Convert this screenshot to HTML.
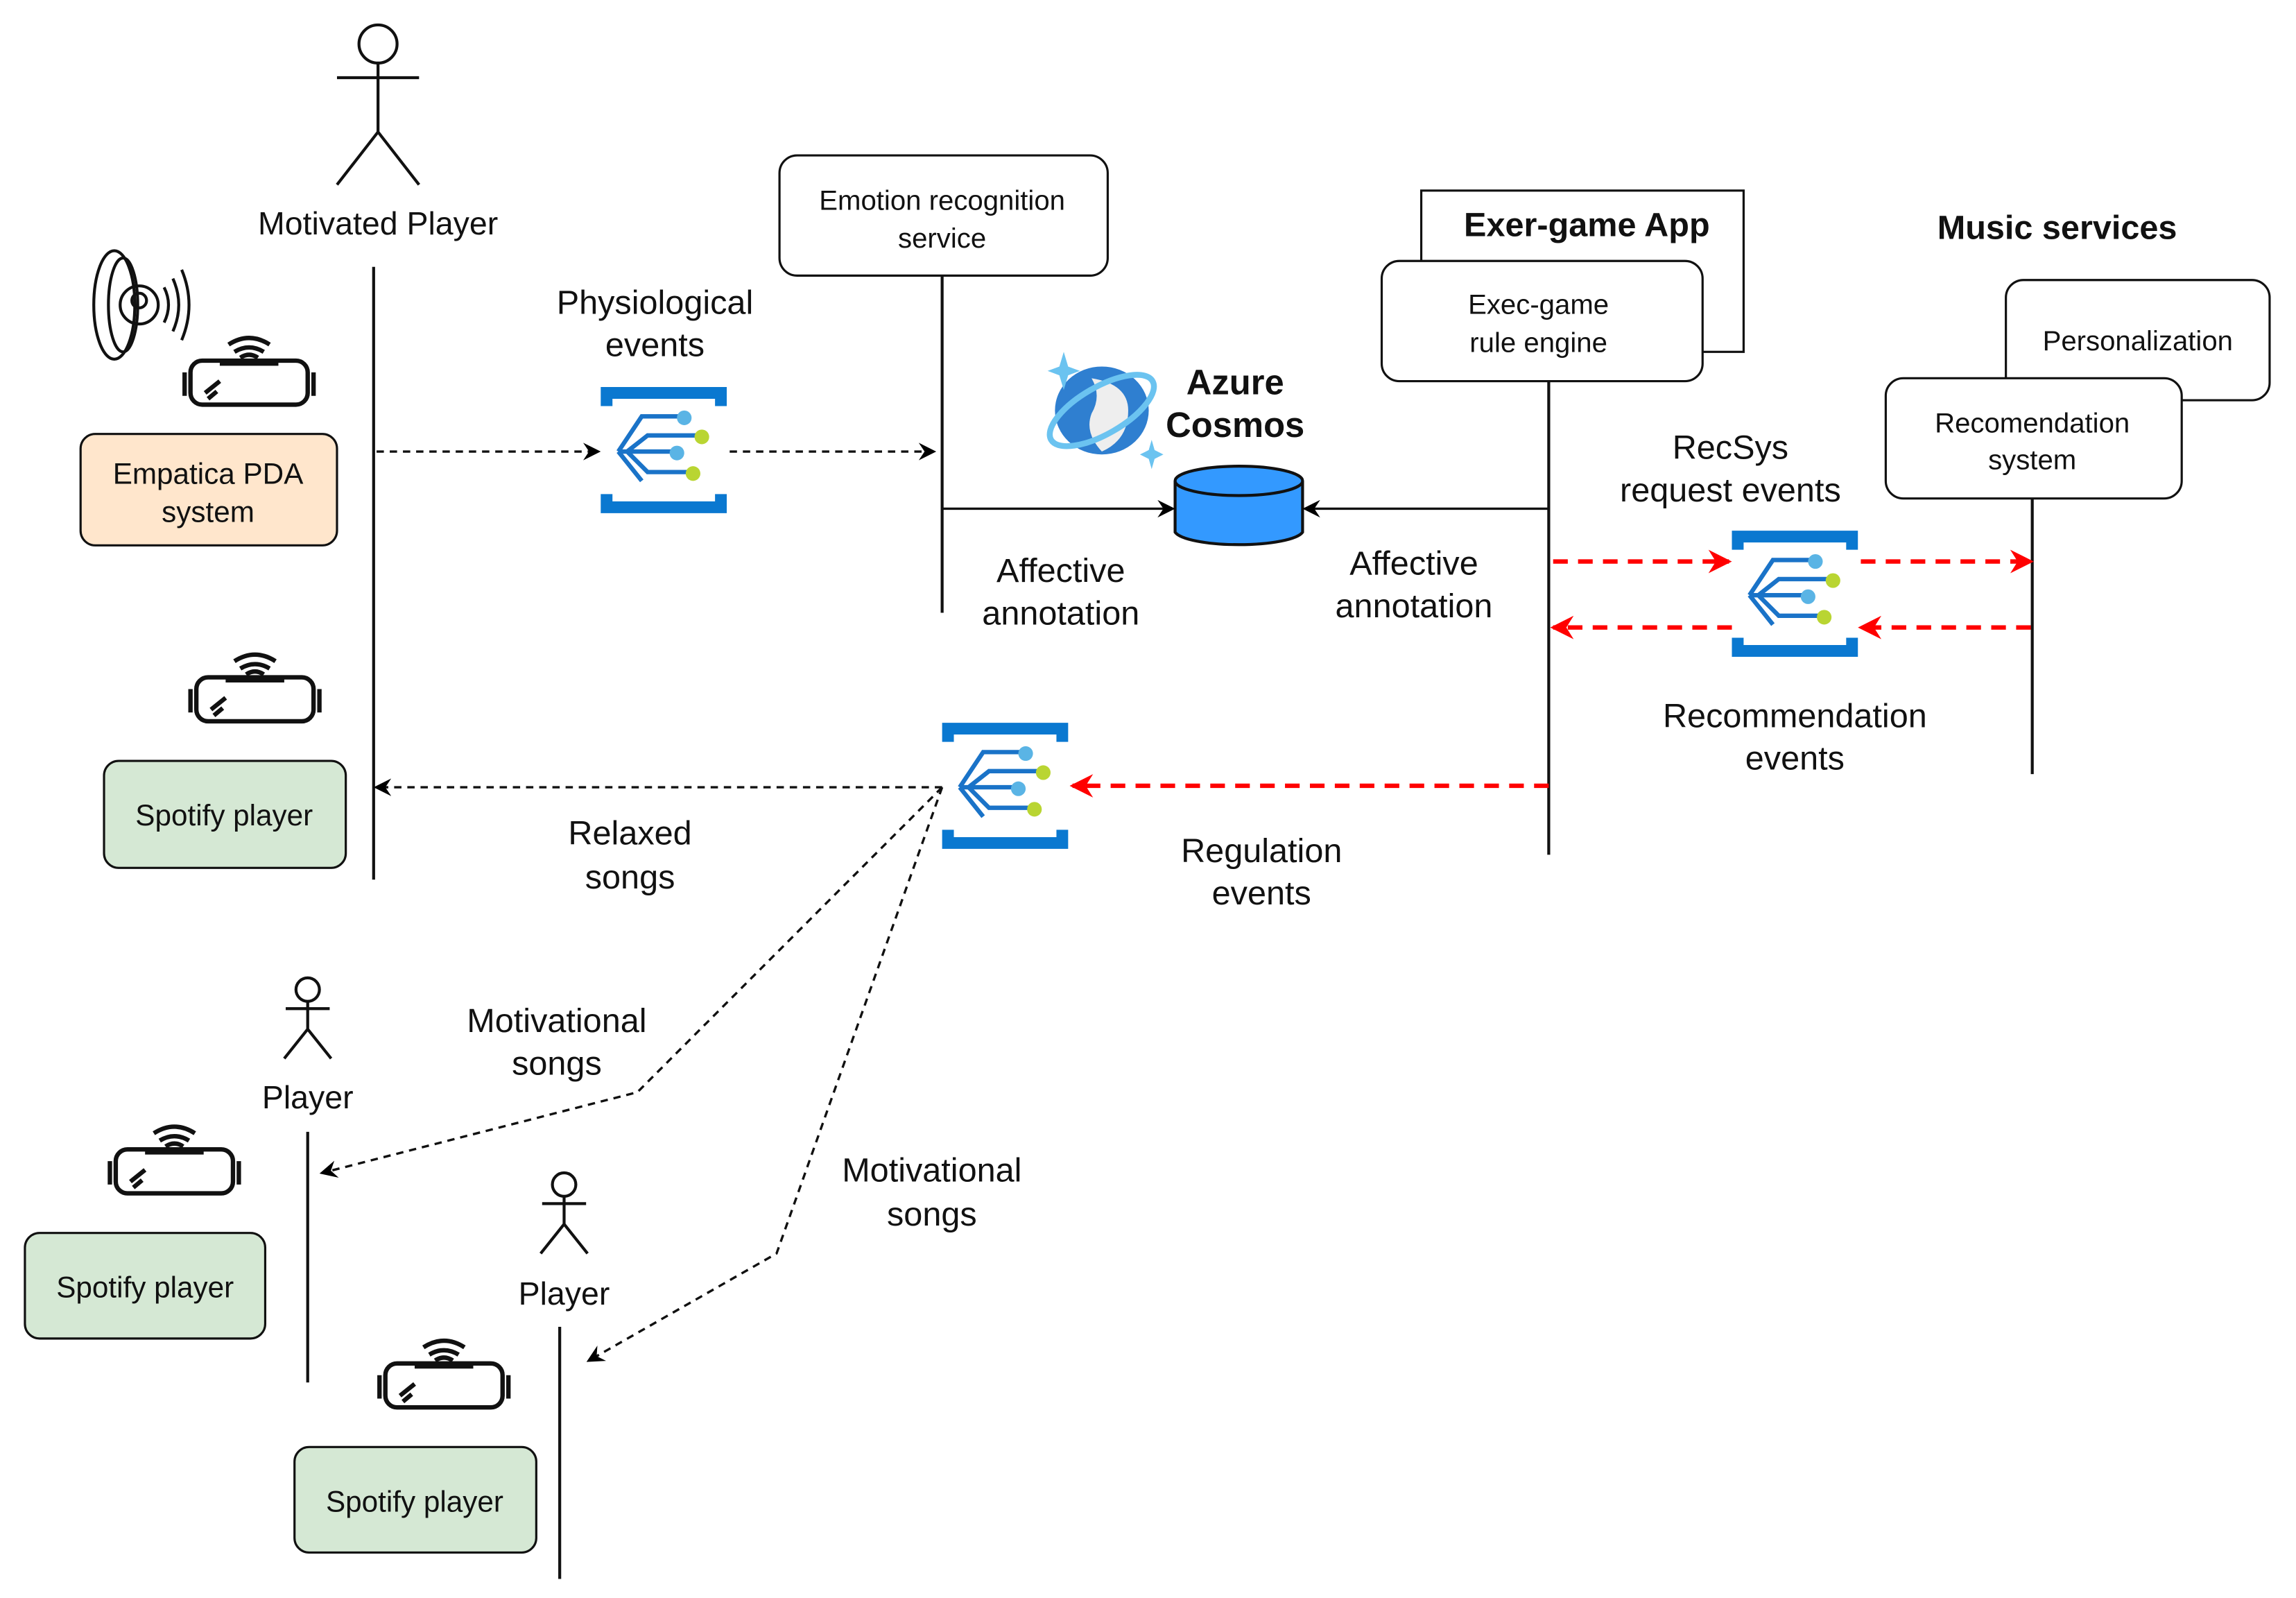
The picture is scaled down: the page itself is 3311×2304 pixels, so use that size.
<!DOCTYPE html>
<html><head><meta charset="utf-8"><style>
html,body{margin:0;padding:0;background:#fff}
svg{display:block}
text{font-family:"Liberation Sans",sans-serif;fill:#111}
</style></head><body>
<svg width="3311" height="2304" viewBox="0 0 1567 1090" preserveAspectRatio="none" xmlns="http://www.w3.org/2000/svg">
<defs>
<marker id="ab" markerWidth="12" markerHeight="12" refX="10" refY="6" orient="auto" markerUnits="userSpaceOnUse"><path d="M0,0 L12,6 L0,12 L4,6Z" fill="#000"/></marker>
<marker id="ar" markerWidth="16" markerHeight="16" refX="14" refY="8" orient="auto" markerUnits="userSpaceOnUse"><path d="M0,0 L16,8 L0,16 L5,8Z" fill="#f00"/></marker>
<g id="hub">
<path d="M0,0 H86 V13 H78 V8 H8 V13 H0Z" fill="#0a78d0"/>
<path d="M0,73 H8 V78 H78 V73 H86 V86 H0Z" fill="#0a78d0"/>
<path d="M12,44 L28,20 H56 M18,44 L32,33 H68 M12,44 H52 M18,44 L32,58 H62 M12,44 L28,64" fill="none" stroke="#1a73c8" stroke-width="3"/>
<circle cx="57" cy="21" r="5" fill="#5ab4e5"/><circle cx="69" cy="34" r="5" fill="#b9d532"/><circle cx="52" cy="45" r="5" fill="#5ab4e5"/><circle cx="63" cy="59" r="5" fill="#b9d532"/>
</g>
<g id="vr" fill="none" stroke="#111" stroke-width="3">
<rect x="4" y="22" width="80" height="30" rx="8"/>
<path d="M0,30 V46 M88,30 V46"/>
<path d="M14,44 L24,36 M16,48 L22,43"/>
<path d="M24,24 H64" />
<path d="M34,16 Q44,10 54,16 M38,20 Q44,16 50,20"/>
<path d="M30,11 Q44,2 58,11"/>
</g>
</defs>

<g fill="none" stroke="#111" stroke-width="2">
<circle cx="258" cy="30" r="13"/><path d="M258,43 V90 M230,53 H286 M258,90 L230,126 M258,90 L286,126"/>
<path d="M255,182 V600"/>
<path d="M643,188 V418"/>
<path d="M1057,260 V583"/>
<path d="M1387,340 V528"/>
<circle cx="210" cy="675" r="8"/><path d="M210,683 V702 M195,688 H225 M210,702 L194,722 M210,702 L226,722"/>
<path d="M210,772 V943"/>
<circle cx="385" cy="808" r="8"/><path d="M385,816 V835 M370,821 H400 M385,835 L369,855 M385,835 L401,855"/>
<path d="M382,905 V1077"/>
</g>
<text x="258" y="160" font-size="22" text-anchor="middle">Motivated Player</text>
<text x="210" y="756" font-size="22" text-anchor="middle">Player</text>
<text x="385" y="890" font-size="22" text-anchor="middle">Player</text>

<g fill="none" stroke="#111" stroke-width="2">
<ellipse cx="78" cy="208" rx="14" ry="37"/><ellipse cx="84" cy="208" rx="10" ry="32"/>
<circle cx="95" cy="208" r="13"/><circle cx="95" cy="205" r="5"/>
<path d="M112,196 Q118,208 112,220 M118,190 Q126,208 118,226 M124,184 Q134,208 124,232"/>
</g>
<use href="#vr" x="126" y="224"/>
<use href="#vr" x="130" y="440"/>
<use href="#vr" x="75" y="762"/>
<use href="#vr" x="259" y="908"/>

<g stroke="#111" stroke-width="1.5">
<rect x="55" y="296" width="175" height="76" rx="10" fill="#ffe6cc"/>
<rect x="71" y="519" width="165" height="73" rx="10" fill="#d5e8d4"/>
<rect x="17" y="841" width="164" height="72" rx="10" fill="#d5e8d4"/>
<rect x="201" y="987" width="165" height="72" rx="10" fill="#d5e8d4"/>
<rect x="532" y="106" width="224" height="82" rx="12" fill="#fff"/>
<rect x="970" y="130" width="220" height="110" fill="#fff"/>
<rect x="943" y="178" width="219" height="82" rx="12" fill="#fff"/>
<rect x="1369" y="191" width="180" height="82" rx="12" fill="#fff"/>
<rect x="1287" y="258" width="202" height="82" rx="12" fill="#fff"/>
</g>
<text font-size="20" text-anchor="middle"><tspan x="142" y="330">Empatica PDA</tspan><tspan x="142" y="356">system</tspan></text>
<text font-size="20" text-anchor="middle" x="153" y="563">Spotify player</text>
<text font-size="20" text-anchor="middle" x="99" y="885">Spotify player</text>
<text font-size="20" text-anchor="middle" x="283" y="1031">Spotify player</text>
<text font-size="19" text-anchor="middle"><tspan x="643" y="143">Emotion recognition</tspan><tspan x="643" y="169">service</tspan></text>
<text font-size="23" font-weight="bold" text-anchor="middle" x="1083" y="161">Exer-game App</text>
<text font-size="19" text-anchor="middle"><tspan x="1050" y="214">Exec-game</tspan><tspan x="1050" y="240">rule engine</tspan></text>
<text font-size="23" font-weight="bold" text-anchor="middle" x="1404" y="163">Music services</text>
<text font-size="19" text-anchor="middle" x="1459" y="239">Personalization</text>
<text font-size="19" text-anchor="middle"><tspan x="1387" y="295">Recomendation</tspan><tspan x="1387" y="320">system</tspan></text>

<ellipse cx="752" cy="280" rx="32" ry="30" fill="#2f7fd0"/>
<path d="M745,258 Q770,262 770,280 Q770,300 752,308 Q740,295 745,282 Q752,270 745,258Z" fill="#eee"/>
<ellipse cx="752" cy="280" rx="40" ry="16" transform="rotate(-30 752 280)" fill="none" stroke="#6bc3f0" stroke-width="4"/>
<path d="M726,240 l3,10 l8,3 l-8,3 l-3,10 l-3,-10 l-8,-3 l8,-3Z" fill="#6bc3f0"/>
<path d="M786,300 l2,7 l6,3 l-6,3 l-2,7 l-2,-7 l-6,-3 l6,-3Z" fill="#6bc3f0"/>
<text font-size="24" font-weight="bold" text-anchor="middle"><tspan x="843" y="269">Azure</tspan><tspan x="843" y="298">Cosmos</tspan></text>
<path d="M802,328 V363 A44,10 0 0 0 889,363 V328" fill="#3399ff" stroke="#111" stroke-width="2"/>
<ellipse cx="845.5" cy="328" rx="43.5" ry="10" fill="#3399ff" stroke="#111" stroke-width="2"/>

<use href="#hub" x="410" y="264"/>
<use href="#hub" x="1182" y="362"/>
<use href="#hub" x="643" y="493"/>

<g fill="none" stroke="#111" stroke-width="1.6">
<path d="M257,308 H408" stroke-dasharray="5,4" marker-end="url(#ab)"/>
<path d="M498,308 H637" stroke-dasharray="5,4" marker-end="url(#ab)"/>
<path d="M643,347 H800" marker-end="url(#ab)"/>
<path d="M1057,347 H891" marker-end="url(#ab)"/>
<path d="M643,537 H257" stroke-dasharray="5,4" marker-end="url(#ab)"/>
<path d="M643,537 L435,745 L220,800" stroke-dasharray="5,4" marker-end="url(#ab)"/>
<path d="M643,537 L530,855 L402,928" stroke-dasharray="5,4" marker-end="url(#ab)"/>
</g>
<g fill="none" stroke="#f00" stroke-width="3" stroke-dasharray="10,7">
<path d="M1060,383 H1180" marker-end="url(#ar)"/>
<path d="M1270,383 H1386" marker-end="url(#ar)"/>
<path d="M1386,428 H1270" marker-end="url(#ar)"/>
<path d="M1182,428 H1060" marker-end="url(#ar)"/>
<path d="M1057,536 H732" marker-end="url(#ar)"/>
</g>

<g font-size="23" text-anchor="middle">
<text><tspan x="447" y="214">Physiological</tspan><tspan x="447" y="243">events</tspan></text>
<text><tspan x="724" y="397">Affective</tspan><tspan x="724" y="426">annotation</tspan></text>
<text><tspan x="965" y="392">Affective</tspan><tspan x="965" y="421">annotation</tspan></text>
<text><tspan x="1181" y="313">RecSys</tspan><tspan x="1181" y="342">request events</tspan></text>
<text><tspan x="1225" y="496">Recommendation</tspan><tspan x="1225" y="525">events</tspan></text>
<text><tspan x="861" y="588">Regulation</tspan><tspan x="861" y="617">events</tspan></text>
<text><tspan x="430" y="576">Relaxed</tspan><tspan x="430" y="606">songs</tspan></text>
<text><tspan x="380" y="704">Motivational</tspan><tspan x="380" y="733">songs</tspan></text>
<text><tspan x="636" y="806">Motivational</tspan><tspan x="636" y="836">songs</tspan></text>
</g>
</svg>
</body></html>
